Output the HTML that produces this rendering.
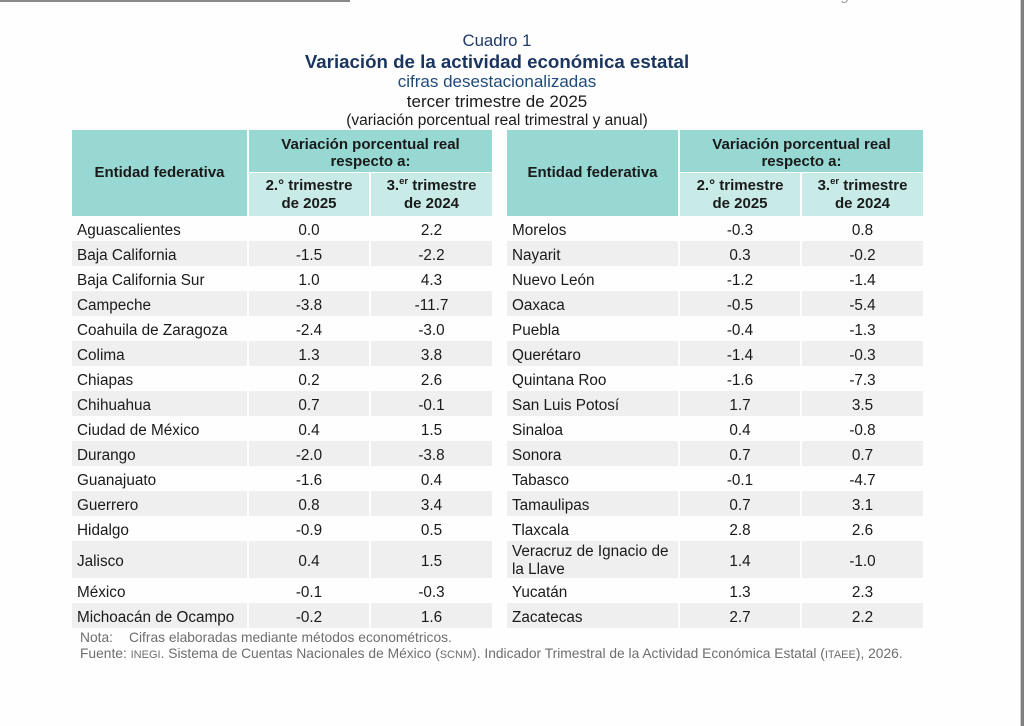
<!DOCTYPE html>
<html>
<head>
<meta charset="utf-8">
<style>
html,body{margin:0;padding:0;background:#fefefe;}
body{width:1024px;height:726px;position:relative;overflow:hidden;font-family:"Liberation Sans",Arial,sans-serif;color:#1a1a1a;}
.topline{position:absolute;left:0;top:0;width:350px;height:2px;background:#8a8a8a;}
.rbar{position:absolute;left:1020px;top:0;width:4px;height:726px;background:#7f7f7f;border-left:1px solid #d0d0d0;}
.pg{position:absolute;left:822px;top:-13px;font-size:15px;color:#9a9a9a;white-space:nowrap;}
.ttl{position:absolute;left:0;width:994px;text-align:center;white-space:nowrap;}
.t{position:absolute;top:130px;}
.hd{display:grid;row-gap:1px;column-gap:2px;grid-template-rows:42px 43px;font-weight:bold;font-size:15px;text-align:center;}
.hd div{display:flex;align-items:center;justify-content:center;line-height:17.5px;}
.dk{background:#97d8d3;}
.lt{background:#c8ebe8;}
.r{display:grid;column-gap:2px;height:25px;font-size:15.3px;line-height:25px;}
.r div{white-space:nowrap;}
.r div span{position:relative;top:2px;}
.r div:first-child{padding-left:5px;text-align:left;}
.r div+div{text-align:center;}
.g div{background:#efefef;}
.tall{height:37px;line-height:37px;}
.two div:first-child{line-height:17.5px;padding-top:1px;height:36px;}
.two div:first-child span{top:1px;}
.L .hd,.L .r{grid-template-columns:175px 120px 121px;}
.R .hd,.R .r{grid-template-columns:171px 120px 121px;}
.sp{font-size:9.5px;line-height:0;position:relative;top:-6px;}
.note{position:absolute;left:80px;font-size:13.8px;color:#6e6e6e;white-space:nowrap;}
.sc{font-size:11px;}
</style>
</head>
<body>
<div class="topline"></div>
<div class="rbar"></div>
<div class="pg">Página 2/4</div>

<div class="ttl" style="top:31px;font-size:16.8px;color:#1f3a68;">Cuadro 1</div>
<div class="ttl" style="top:51px;font-size:18.7px;font-weight:bold;color:#1b355f;">Variación de la actividad económica estatal</div>
<div class="ttl" style="top:72px;font-size:17px;color:#1f4a7a;">cifras desestacionalizadas</div>
<div class="ttl" style="top:92px;font-size:17px;color:#1a1a1a;">tercer trimestre de 2025</div>
<div class="ttl" style="top:112px;font-size:15.5px;color:#1a1a1a;">(variación porcentual real trimestral y anual)</div>

<div class="t L" style="left:72px;width:420px;">
  <div class="hd">
    <div class="dk" style="grid-row:1/3;grid-column:1;">Entidad federativa</div>
    <div class="dk" style="grid-row:1;grid-column:2/4;padding-top:4px;">Variación porcentual real<br>respecto a:</div>
    <div class="lt" style="grid-row:2;grid-column:2;">2.° trimestre<br>de 2025</div>
    <div class="lt" style="grid-row:2;grid-column:3;"><span>3.<span class="sp">er</span> trimestre<br>de 2024</span></div>
  </div>
  <div class="r"><div><span>Aguascalientes</span></div><div><span>0.0</span></div><div><span>2.2</span></div></div>
  <div class="r g"><div><span>Baja California</span></div><div><span>-1.5</span></div><div><span>-2.2</span></div></div>
  <div class="r"><div><span>Baja California Sur</span></div><div><span>1.0</span></div><div><span>4.3</span></div></div>
  <div class="r g"><div><span>Campeche</span></div><div><span>-3.8</span></div><div><span>-11.7</span></div></div>
  <div class="r"><div><span>Coahuila de Zaragoza</span></div><div><span>-2.4</span></div><div><span>-3.0</span></div></div>
  <div class="r g"><div><span>Colima</span></div><div><span>1.3</span></div><div><span>3.8</span></div></div>
  <div class="r"><div><span>Chiapas</span></div><div><span>0.2</span></div><div><span>2.6</span></div></div>
  <div class="r g"><div><span>Chihuahua</span></div><div><span>0.7</span></div><div><span>-0.1</span></div></div>
  <div class="r"><div><span>Ciudad de México</span></div><div><span>0.4</span></div><div><span>1.5</span></div></div>
  <div class="r g"><div><span>Durango</span></div><div><span>-2.0</span></div><div><span>-3.8</span></div></div>
  <div class="r"><div><span>Guanajuato</span></div><div><span>-1.6</span></div><div><span>0.4</span></div></div>
  <div class="r g"><div><span>Guerrero</span></div><div><span>0.8</span></div><div><span>3.4</span></div></div>
  <div class="r"><div><span>Hidalgo</span></div><div><span>-0.9</span></div><div><span>0.5</span></div></div>
  <div class="r g tall"><div><span>Jalisco</span></div><div><span>0.4</span></div><div><span>1.5</span></div></div>
  <div class="r"><div><span>México</span></div><div><span>-0.1</span></div><div><span>-0.3</span></div></div>
  <div class="r g"><div><span>Michoacán de Ocampo</span></div><div><span>-0.2</span></div><div><span>1.6</span></div></div>
</div>

<div class="t R" style="left:507px;width:416px;">
  <div class="hd">
    <div class="dk" style="grid-row:1/3;grid-column:1;">Entidad federativa</div>
    <div class="dk" style="grid-row:1;grid-column:2/4;padding-top:4px;">Variación porcentual real<br>respecto a:</div>
    <div class="lt" style="grid-row:2;grid-column:2;">2.° trimestre<br>de 2025</div>
    <div class="lt" style="grid-row:2;grid-column:3;"><span>3.<span class="sp">er</span> trimestre<br>de 2024</span></div>
  </div>
  <div class="r"><div><span>Morelos</span></div><div><span>-0.3</span></div><div><span>0.8</span></div></div>
  <div class="r g"><div><span>Nayarit</span></div><div><span>0.3</span></div><div><span>-0.2</span></div></div>
  <div class="r"><div><span>Nuevo León</span></div><div><span>-1.2</span></div><div><span>-1.4</span></div></div>
  <div class="r g"><div><span>Oaxaca</span></div><div><span>-0.5</span></div><div><span>-5.4</span></div></div>
  <div class="r"><div><span>Puebla</span></div><div><span>-0.4</span></div><div><span>-1.3</span></div></div>
  <div class="r g"><div><span>Querétaro</span></div><div><span>-1.4</span></div><div><span>-0.3</span></div></div>
  <div class="r"><div><span>Quintana Roo</span></div><div><span>-1.6</span></div><div><span>-7.3</span></div></div>
  <div class="r g"><div><span>San Luis Potosí</span></div><div><span>1.7</span></div><div><span>3.5</span></div></div>
  <div class="r"><div><span>Sinaloa</span></div><div><span>0.4</span></div><div><span>-0.8</span></div></div>
  <div class="r g"><div><span>Sonora</span></div><div><span>0.7</span></div><div><span>0.7</span></div></div>
  <div class="r"><div><span>Tabasco</span></div><div><span>-0.1</span></div><div><span>-4.7</span></div></div>
  <div class="r g"><div><span>Tamaulipas</span></div><div><span>0.7</span></div><div><span>3.1</span></div></div>
  <div class="r"><div><span>Tlaxcala</span></div><div><span>2.8</span></div><div><span>2.6</span></div></div>
  <div class="r g tall two"><div><span>Veracruz de Ignacio de<br>la Llave</span></div><div><span>1.4</span></div><div><span>-1.0</span></div></div>
  <div class="r"><div><span>Yucatán</span></div><div><span>1.3</span></div><div><span>2.3</span></div></div>
  <div class="r g"><div><span>Zacatecas</span></div><div><span>2.7</span></div><div><span>2.2</span></div></div>
</div>

<div class="note" style="top:630px;">Nota:<span style="display:inline-block;width:16px;"></span>Cifras elaboradas mediante métodos econométricos.</div>
<div class="note" style="top:646px;">Fuente: <span class="sc">INEGI</span>. Sistema de Cuentas Nacionales de México (<span class="sc">SCNM</span>). Indicador Trimestral de la Actividad Económica Estatal (<span class="sc">ITAEE</span>), 2026.</div>
</body>
</html>
